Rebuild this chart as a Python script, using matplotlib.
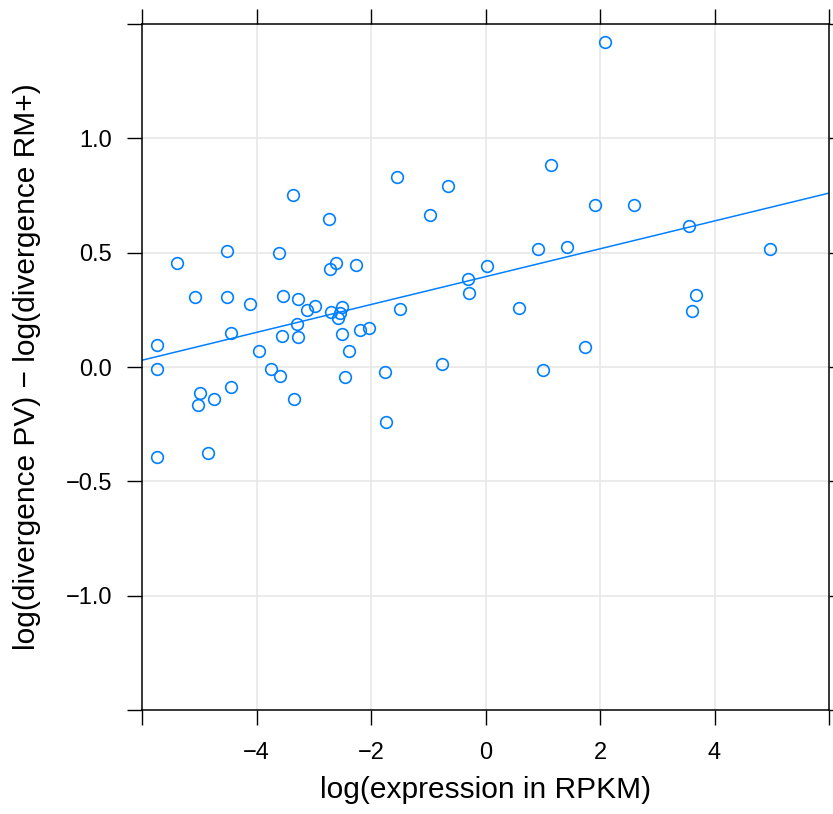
import numpy as np
import matplotlib
matplotlib.use("Agg")
import matplotlib.pyplot as plt

plt.rcParams['font.family'] = ['Liberation Sans', 'DejaVu Sans']

# log(expression in RPKM)
expr = [2.09, 1.15, -1.55, -0.65, -3.37, -0.97, -2.74, 1.91, 2.59, 3.56,
        -4.51, -5.38, -3.60, -2.62, -2.71, -2.26, 0.92, 1.43, 4.97, -5.07,
        -4.52, -4.12, -3.54, -3.28, -2.97, -3.11, -2.51, -2.69, -2.55, -2.58,
        -1.50, -0.30, -0.29, 0.03, 0.58, 3.68, 3.61, -3.29, -4.44, -3.56,
        -3.28, -2.51, -2.20, -2.04, -5.74, -3.95, -2.38, -5.74, -3.74, -3.59,
        -2.45, -1.76, -0.76, 1.74, 1.01, -4.99, -5.03, -4.74, -4.44, -3.35,
        -1.73, -5.74, -4.85]
# log(divergence PV) - log(divergence RM+)
diff = [1.421, 0.882, 0.832, 0.790, 0.753, 0.665, 0.649, 0.707, 0.707, 0.617,
        0.509, 0.453, 0.497, 0.456, 0.429, 0.447, 0.515, 0.526, 0.516, 0.307,
        0.307, 0.277, 0.312, 0.299, 0.267, 0.249, 0.261, 0.241, 0.237, 0.214,
        0.252, 0.385, 0.325, 0.443, 0.257, 0.314, 0.245, 0.188, 0.147, 0.136,
        0.133, 0.144, 0.160, 0.171, 0.098, 0.071, 0.071, -0.007, -0.009, -0.039,
        -0.042, -0.021, 0.013, 0.086, -0.014, -0.115, -0.167, -0.141, -0.089, -0.140,
        -0.241, -0.392, -0.377]

x_ticks = [-6, -4, -2, 0, 2, 4, 6]
x_labels = ['', '−4', '−2', '0', '2', '4', '']
y_ticks = [-1.5, -1.0, -0.5, 0.0, 0.5, 1.0, 1.5]
y_labels = ['', '−1.0', '−0.5', '0.0', '0.5', '1.0', '']

blue = '#0080ff'

fig = plt.figure(figsize=(8.33, 8.14), dpi=100)
ax = fig.add_axes([142/833, (814-710)/814, 687/833, 686/814])

ax.set_xlim(-6, 6)
ax.set_ylim(-1.5, 1.5)

for v in x_ticks[1:-1]:
    ax.axvline(v, color='#e6e6e6', lw=1.1, zorder=0)
for v in y_ticks[1:-1]:
    ax.axhline(v, color='#e6e6e6', lw=1.1, zorder=0)

ax.plot(expr, diff, linestyle='none', marker='o', markersize=8.4,
        markerfacecolor='none', markeredgecolor=blue, markeredgewidth=1.2, zorder=3)

slope, intercept = np.polyfit(expr, diff, 1)
xs = np.array([-6, 6])
ax.plot(xs, intercept + slope * xs, color=blue, lw=1.1, zorder=2)

ax.set_xticks(x_ticks)
ax.set_xticklabels(x_labels)
ax.set_yticks(y_ticks)
ax.set_yticklabels(y_labels)
ax.tick_params(direction='out', length=11, width=1.0, top=True, right=True,
               labeltop=False, labelright=False, labelsize=17, colors='black')
ax.tick_params(axis='x', pad=12)
ax.tick_params(axis='y', pad=10.5)
for s in ax.spines.values():
    s.set_linewidth(1.1)

ax.set_xlabel('log(expression in RPKM)', fontsize=21.5)
ax.set_ylabel('log(divergence PV) − log(divergence RM+)', fontsize=21.5)
ax.xaxis.set_label_coords(0.5, (710 - 776) / 686)
ax.yaxis.set_label_coords((41 - 142) / 687, 0.5)

fig.savefig('out.png', dpi=100)
